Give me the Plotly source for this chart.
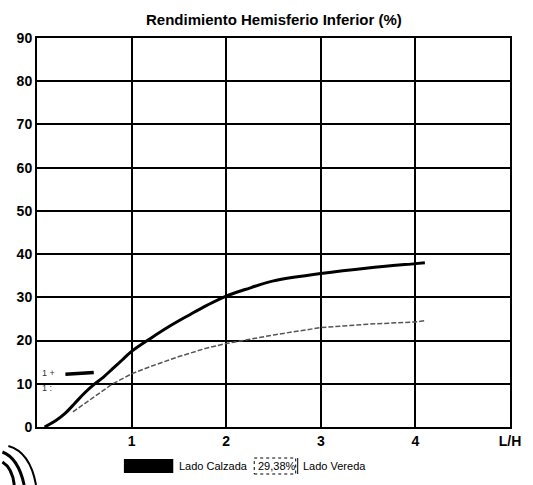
import plotly.graph_objects as go

# Rendimiento del hemisferio inferior vs relación L/H
lh_calzada = [0.08, 0.2, 0.3, 0.4, 0.5, 0.6, 0.7, 0.8, 0.9, 1.0, 1.2, 1.4, 1.6, 1.8,
              2.0, 2.2, 2.5, 3.0, 3.5, 4.0, 4.1]
rend_calzada = [0.0, 1.5, 3.2, 5.5, 7.8, 9.8, 11.5, 13.5, 15.5, 17.5, 20.5, 23.3, 25.8,
                28.2, 30.3, 31.8, 33.8, 35.5, 36.8, 37.8, 38.0]

lh_vereda = [0.38, 0.5, 0.6, 0.7, 0.8, 1.0, 1.2, 1.5, 1.8, 2.0, 2.5, 3.0, 3.5, 4.0, 4.1]
rend_vereda = [3.5, 5.3, 6.8, 8.4, 10.0, 12.3, 14.0, 16.3, 18.3, 19.3, 21.3, 23.0, 23.8,
               24.3, 24.6]

# trazo corto junto al eje (marca de referencia)
lh_marca = [0.3, 0.6]
rend_marca = [12.2, 12.6]

x_ticks = [1, 2, 3, 4, 5]
x_labels = ["1", "2", "3", "4", "L/H"]
y_ticks = [0, 10, 20, 30, 40, 50, 60, 70, 80, 90]
y_labels = [str(v) for v in y_ticks]

font_family = "Liberation Sans, Arial, sans-serif"

fig = go.Figure()
fig.add_trace(go.Scatter(x=lh_vereda, y=rend_vereda, mode="lines",
                         line=dict(color="#555555", width=1.5, dash="5px,2px"),
                         showlegend=False))
fig.add_trace(go.Scatter(x=lh_calzada, y=rend_calzada, mode="lines",
                         line=dict(color="black", width=3, shape="spline"),
                         showlegend=False))
fig.add_trace(go.Scatter(x=lh_marca, y=rend_marca, mode="lines",
                         line=dict(color="black", width=3.5),
                         showlegend=False))

axis_common = dict(showgrid=True, gridcolor="black", gridwidth=2,
                   showline=True, linecolor="black", linewidth=2, mirror=True,
                   zeroline=False, ticks="",
                   tickfont=dict(family=font_family, size=14, color="black"))

fig.update_xaxes(range=[0, 5], tickvals=x_ticks,
                 ticktext=[f"<b>{t}</b>" for t in x_labels], **axis_common)
fig.update_yaxes(range=[0, 90], tickvals=y_ticks,
                 ticktext=[f"<b>{t}</b>" for t in y_labels], **axis_common)

W, H = 533, 485
ml, mr, mt, mb = 37, 17, 38, 58
pw, ph = W - ml - mr, H - mt - mb


def px(xp):
    return (xp - ml) / pw


def py(yp):
    return (H - mb - yp) / ph


legend_y = 466
annotations = [
    dict(text="<b>Rendimiento Hemisferio Inferior (%)</b>", x=0.5, y=1.0,
         xref="paper", yref="paper", xanchor="center", yanchor="bottom",
         yshift=8, showarrow=False,
         font=dict(family=font_family, size=15, color="black")),
    dict(text="1 +", x=0.03, y=12.6, xref="x", yref="y", xanchor="left",
         showarrow=False, font=dict(family=font_family, size=9, color="#333333")),
    dict(text="1 :", x=0.03, y=9.0, xref="x", yref="y", xanchor="left",
         showarrow=False, font=dict(family=font_family, size=9, color="#333333")),
    dict(text="Lado Calzada", x=px(179), y=py(legend_y), xref="paper", yref="paper",
         xanchor="left", yanchor="middle", showarrow=False,
         font=dict(family=font_family, size=11, color="black")),
    dict(text="29,38%", x=px(259), y=py(legend_y), xref="paper", yref="paper",
         xanchor="left", yanchor="middle", showarrow=False,
         font=dict(family=font_family, size=11, color="black")),
    dict(text="Lado Vereda", x=px(304), y=py(legend_y), xref="paper", yref="paper",
         xanchor="left", yanchor="middle", showarrow=False,
         font=dict(family=font_family, size=11, color="black")),
]

shapes = [
    # cuadro negro de la leyenda
    dict(type="rect", xref="paper", yref="paper",
         x0=px(125), x1=px(175), y0=py(legend_y + 7), y1=py(legend_y - 7),
         fillcolor="black", line=dict(width=0)),
    # recuadro punteado del porcentaje
    dict(type="rect", xref="paper", yref="paper",
         x0=px(257), x1=px(299), y0=py(legend_y + 8), y1=py(legend_y - 8),
         line=dict(color="black", width=1, dash="dot")),
    dict(type="line", xref="paper", yref="paper",
         x0=px(301), x1=px(301), y0=py(legend_y + 8), y1=py(legend_y - 8),
         line=dict(color="black", width=1)),
    # trazos curvos en la esquina inferior
    dict(type="path", xref="paper", yref="paper",
         path=f"M {px(2)},{py(452)} Q {px(18)},{py(458)} {px(24)},{py(485)}",
         line=dict(color="black", width=3)),
    dict(type="path", xref="paper", yref="paper",
         path=f"M {px(2)},{py(462)} Q {px(12)},{py(468)} {px(14)},{py(485)}",
         line=dict(color="black", width=3)),
    dict(type="path", xref="paper", yref="paper",
         path=f"M {px(8)},{py(446)} Q {px(30)},{py(452)} {px(36)},{py(485)}",
         line=dict(color="black", width=2)),
]

fig.update_layout(
    width=W, height=H,
    margin=dict(l=ml, r=mr, t=mt, b=mb),
    paper_bgcolor="white", plot_bgcolor="white",
    annotations=annotations, shapes=shapes,
    font=dict(family=font_family, color="black"),
    showlegend=False,
)

fig.write_html("out.html")
